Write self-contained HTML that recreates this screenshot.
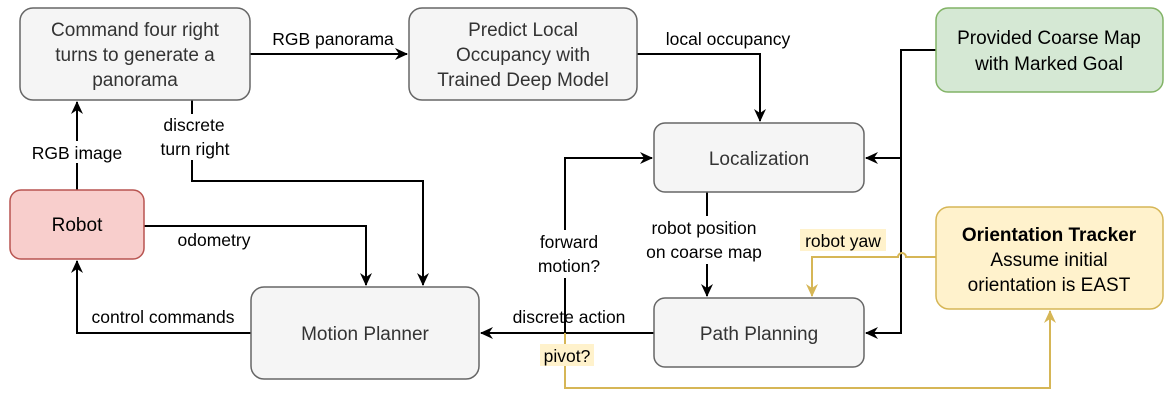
<!DOCTYPE html>
<html><head><meta charset="utf-8"><style>
body{margin:0;background:#fff;width:1176px;height:404px;overflow:hidden}
svg text{font-family:"Liberation Sans",sans-serif}
.b{font-size:19px;fill:#333;text-anchor:middle}
.l{font-size:17.5px;fill:#000;text-anchor:middle}
</style></head><body>
<svg width="1176" height="404" viewBox="0 0 1176 404" xmlns="http://www.w3.org/2000/svg">
<defs>
<marker id="a" markerWidth="14" markerHeight="14" refX="12" refY="7" orient="auto" markerUnits="userSpaceOnUse"><path d="M0,1 L13,7 L0,13 L4,7 Z" fill="#000"/></marker>
<marker id="g" markerWidth="14" markerHeight="14" refX="12" refY="7" orient="auto" markerUnits="userSpaceOnUse"><path d="M0,1 L13,7 L0,13 L4,7 Z" fill="#d6b656"/></marker>
</defs>
<g fill="none" stroke="#000" stroke-width="2">
<path d="M250,54 H407" marker-end="url(#a)"/>
<path d="M637,54 H760 V121" marker-end="url(#a)"/>
<path d="M936,50 H901 V333 H866" marker-end="url(#a)"/>
<path d="M901,158 H866" marker-end="url(#a)"/>
<path d="M77,190 V102" marker-end="url(#a)"/>
<path d="M192,100 V181 H423 V285" marker-end="url(#a)"/>
<path d="M144,226 H366 V285" marker-end="url(#a)"/>
<path d="M251,333 H77 V261" marker-end="url(#a)"/>
<path d="M654,333 H481" marker-end="url(#a)"/>
<path d="M565,333 V158 H652" marker-end="url(#a)"/>
<path d="M707,192 V296" marker-end="url(#a)"/>
</g>
<g fill="none" stroke="#d6b656" stroke-width="2">
<path d="M936,257 H906 A4,4 0 0 0 898,257 H812 V296" marker-end="url(#g)"/>
<path d="M565,333 V388 H1050 V311" marker-end="url(#g)"/>
</g>
<g stroke-width="1.5">
<rect x="20" y="8" width="230" height="92" rx="13" fill="#f5f5f5" stroke="#666"/>
<rect x="409" y="8" width="228" height="92" rx="13" fill="#f5f5f5" stroke="#666"/>
<rect x="936" y="8" width="227" height="84" rx="12" fill="#d5e8d4" stroke="#82b366"/>
<rect x="654" y="123" width="210" height="69" rx="11" fill="#f5f5f5" stroke="#666"/>
<rect x="10" y="190" width="134" height="69" rx="11" fill="#f8cecc" stroke="#b85450"/>
<rect x="936" y="207" width="227" height="102" rx="13" fill="#fff2cc" stroke="#d6b656"/>
<rect x="251" y="287" width="228" height="92" rx="13" fill="#f5f5f5" stroke="#666"/>
<rect x="654" y="298" width="210" height="69" rx="11" fill="#f5f5f5" stroke="#666"/>
</g>
<g fill="#fff">
<rect x="20" y="141" width="115" height="22"/>
<rect x="155" y="114" width="80" height="46"/>
<rect x="530" y="230" width="78" height="48"/>
<rect x="638" y="216" width="134" height="48"/>
</g>
<rect x="800" y="229" width="86" height="22" fill="#fff2cc"/>
<rect x="540" y="344" width="54" height="22" fill="#fff2cc"/>
<g class="b">
<text x="135" y="36">Command four right</text>
<text x="135" y="61">turns to generate a</text>
<text x="135" y="86">panorama</text>
<text x="523" y="36">Predict Local</text>
<text x="523" y="61">Occupancy with</text>
<text x="523" y="86">Trained Deep Model</text>
<text x="1049" y="44" fill="#000">Provided Coarse Map</text>
<text x="1049" y="70" fill="#000">with Marked Goal</text>
<text x="759" y="165">Localization</text>
<text x="77" y="231" fill="#000">Robot</text>
<text x="1049" y="241" fill="#000" font-weight="bold">Orientation Tracker</text>
<text x="1049" y="266" fill="#000">Assume initial</text>
<text x="1049" y="291" fill="#000">orientation is EAST</text>
<text x="365" y="340">Motion Planner</text>
<text x="759" y="340">Path Planning</text>
</g>
<g class="l">
<text x="333" y="45">RGB panorama</text>
<text x="728" y="45">local occupancy</text>
<text x="77" y="159">RGB image</text>
<text x="194" y="131">discrete</text>
<text x="195" y="155">turn right</text>
<text x="214" y="246">odometry</text>
<text x="163" y="323">control commands</text>
<text x="569" y="323">discrete action</text>
<text x="569" y="248">forward</text>
<text x="569" y="272">motion?</text>
<text x="704" y="234">robot position</text>
<text x="704" y="258">on coarse map</text>
<text x="843" y="247">robot yaw</text>
<text x="567" y="362">pivot?</text>
</g>
</svg>
</body></html>
